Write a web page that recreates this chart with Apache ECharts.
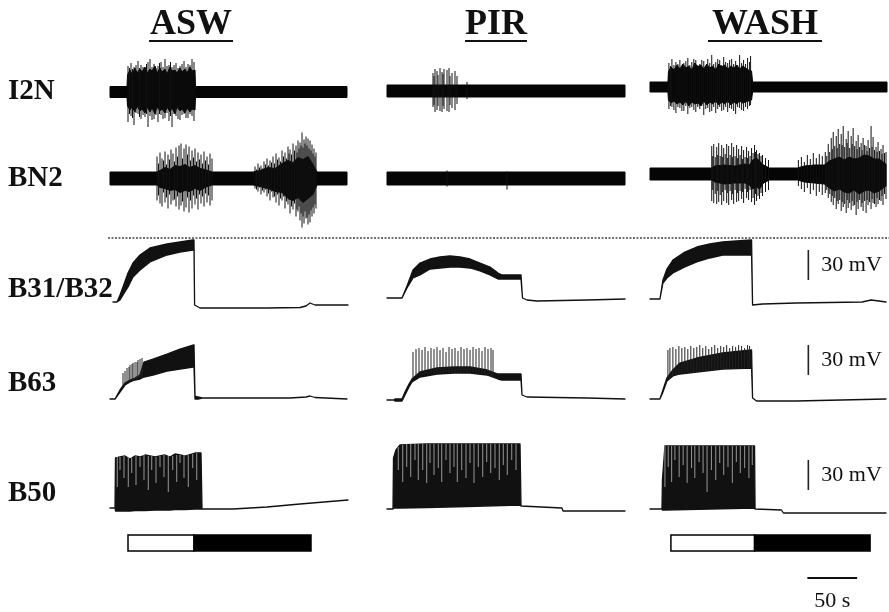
<!DOCTYPE html>
<html><head><meta charset="utf-8">
<script src="https://cdn.jsdelivr.net/npm/echarts@6/dist/echarts.min.js"></script>
<style>html,body{margin:0;padding:0;background:#fff}#main{width:889px;height:612px}</style>
</head><body><div id="main"></div>
<script>
// ---------- labels ----------
const conditions = ['ASW', 'PIR', 'WASH'];
const rowNames = ['I2N', 'BN2', 'B31/B32', 'B63', 'B50'];
const voltBarText = '30 mV';
const timeBarText = '50 s';

// ---------- extracellular nerve recordings: [t (s), upper, lower] (relative units) ----------
const I2N_ASW = [[0,5.5,-5.5],[17,5.5,-5.5],[17.5,17,-14],[20,22,-18],[22,18,-15],[25,24,-20],[27,19,-14],[30,23,-19],[32,20,-17],[35,25,-21],[37,19,-15],[40,23,-20],[42,21,-16],[45,26,-22],[47,19,-15],[50,24,-19],[52,20,-17],[55,23,-21],[57,18,-15],[60,25,-20],[62,21,-16],[65,22,-22],[67,19,-15],[70,24,-19],[72,20,-17],[75,23,-21],[77,19,-16],[80,25,-20],[82,21,-17],[85,22,-18],[85.5,5.5,-5.5],[237,5.5,-5.5]];
const I2N_ASW_spikes = [[18,26,-30],[19.5,24,-22],[21,29,-24],[22.5,23,-26],[24,25,-33],[26,27,-21],[28,31,-22],[29.5,24,-25],[31,27,-27],[33,25,-23],[35,24,-25],[36.5,28,-22],[38,30,-35],[40,33,-24],[42,25,-28],[44,28,-27],[46,24,-23],[48,26,-30],[49.5,29,-22],[51,30,-23],[53,25,-27],[55,33,-26],[57,26,-21],[59,27,-29],[60.5,30,-24],[62,25,-35],[64,27,-22],[66,29,-24],[68,24,-27],[70,26,-28],[72,28,-23],[74,31,-22],[76,25,-26],[78,28,-26],[80,27,-22],[82,33,-24],[84,30,-29]];
const I2N_PIR = [[0,6,-6],[238,6,-6]];
const I2N_PIR_spikes = [[46,18,-16],[47,15,-14],[48,22,-21],[50,20,-19],[51,16,-15],[53,23,-20],[55,19,-21],[56,17,-15],[57,22,-18],[60,21,-20],[62,23,-21],[63,15,-14],[65,18,-17],[68,20,-19],[70,15,-13],[80,9,-8]];
const I2N_WASH = [[0,5,-5],[18,5,-5],[18.5,15,-13],[21,20,-16],[24,17,-14],[27,22,-17],[30,18,-15],[33,23,-18],[36,19,-14],[39,21,-19],[42,17,-15],[45,24,-17],[48,20,-16],[51,22,-19],[54,18,-14],[57,23,-18],[60,19,-15],[63,21,-17],[66,17,-14],[69,23,-18],[72,20,-15],[75,22,-17],[78,18,-14],[81,21,-18],[84,19,-15],[87,22,-17],[90,18,-14],[93,21,-16],[96,19,-15],[99,17,-14],[102,16,-13],[103,5,-5],[238,5,-5]];
const I2N_WASH_spikes = [[19,24,-22],[20.5,21,-19],[22,28,-20],[24,22,-23],[26,25,-26],[28,23,-20],[30,27,-21],[32,21,-24],[34,24,-24],[36,26,-19],[38,29,-27],[40,22,-21],[42,25,-20],[44,28,-23],[46,27,-25],[48,22,-20],[50,23,-22],[52,27,-19],[54,26,-28],[56,21,-22],[58,28,-21],[60,24,-25],[62,32,-24],[64,23,-20],[66,25,-26],[68,28,-22],[70,27,-20],[72,22,-24],[74,30,-23],[76,25,-20],[78,24,-25],[80,27,-21],[82,28,-22],[84,23,-24],[86,26,-27],[88,22,-20],[90,32,-21],[92,24,-23],[94,27,-24],[96,23,-20],[98,29,-22],[100,25,-19],[101,31,-18]];

const BN2_ASW = [[0,6.5,-6.5],[47,6.5,-6.5],[50,8,-9],[55,11,-10],[60,9,-12],[65,13,-11],[70,12,-14],[75,14,-12],[80,11,-13],[85,13,-10],[90,10,-12],[95,9,-9],[102,6.5,-6.5],[143,6.5,-6.5],[150,8,-8],[158,11,-10],[165,10,-13],[172,15,-14],[178,18,-20],[183,16,-22],[188,21,-19],[193,19,-24],[198,22,-20],[203,14,-16],[207,6.5,-6.5],[237,6.5,-6.5]];
const BN2_ASW_spikes = [[47,22,-22],[48.5,15,-17],[50,26,-25],[52,20,-28],[53.5,18,-14],[55,27,-24],[56.5,14,-19],[58,24,-30],[59.5,19,-16],[61,29,-26],[63,25,-22],[64.5,17,-21],[66,31,-28],[67.5,22,-18],[69,33,-31],[71,35,-27],[72.5,20,-23],[74,30,-33],[76,34,-29],[77.5,24,-19],[79,32,-34],[80.5,18,-22],[82,28,-30],[83.5,21,-17],[85,30,-26],[86.5,17,-20],[88,26,-31],[89.5,19,-16],[91,24,-25],[92.5,15,-18],[94,27,-28],[95.5,18,-15],[97,22,-24],[98.5,14,-17],[100,25,-27],[102,20,-22],
  [145,12,-10],[146.5,9,-11],[148,15,-13],[149.5,11,-9],[151,13,-16],[152.5,10,-12],[154,17,-14],[155.5,14,-11],[157,20,-18],[158.5,13,-15],[160,18,-22],[161.5,16,-13],[163,22,-19],[164.5,15,-18],[166,25,-24],[167.5,19,-16],[169,21,-27],[170.5,17,-20],[172,28,-22],[173.5,22,-18],[175,26,-30],[176.5,20,-23],[178,32,-26],[179,25,-21],[180,29,-35],[181.5,24,-28],[183,35,-31],[184.5,28,-25],[186,33,-38],[187,26,-31],[188,38,-33],[189,30,-28],[190,36,-42],[191,33,-35],[192,46,-49],[193,31,-38],[194,39,-45],[195,35,-33],[196,42,-40],[197,33,-39],[198,40,-46],[199,30,-36],[200,38,-44],[201,28,-32],[202,34,-38],[203,25,-29],[204,30,-35],[205,22,-26],[206,26,-30]];
const BN2_PIR = [[0,6.5,-6.5],[238,6.5,-6.5]];
const BN2_PIR_spikes = [[60,8,-8],[120,7,-11]];
const BN2_WASH = [[0,6,-6],[62,6,-6],[65,8,-8],[75,9,-10],[85,8,-9],[95,10,-9],[100,9,-11],[103,14,-15],[107,16,-13],[110,13,-15],[114,9,-9],[120,6,-6],[148,6,-6],[155,8,-8],[165,9,-9],[175,9,-10],[180,13,-14],[185,15,-17],[190,17,-15],[195,14,-18],[200,17,-19],[205,15,-16],[210,16,-20],[215,19,-17],[220,18,-16],[225,15,-19],[230,15,-17],[237,10,-12]];
const BN2_WASH_spikes = [[62,28,-27],[63,18,-16],[64,30,-29],[65.5,17,-20],[67,27,-30],[68,19,-17],[69,31,-28],[70.5,18,-21],[72,29,-31],[73,17,-18],[74,26,-27],[75.5,20,-16],[77,30,-29],[78,16,-19],[79,28,-31],[80.5,19,-17],[82,31,-26],[83,17,-20],[84,27,-30],[85.5,18,-16],[87,29,-28],[88,16,-19],[89,25,-27],[90.5,19,-17],[92,28,-25],[93,15,-18],[94,24,-29],[95.5,17,-15],[97,27,-24],[98,16,-18],[99,23,-26],[100.5,18,-16],[102,26,-28],[103.5,21,-24],[105,29,-31],[106,22,-20],[107,24,-27],[108.5,20,-22],[110,21,-25],[111.5,18,-19],[113,19,-22],[116,16,-18],[119,14,-16],
  [149,14,-12],[152,17,-15],[155,12,-18],[158,19,-14],[161,15,-20],[164,21,-16],[167,16,-22],[170,20,-18],[173,18,-21],[176,22,-19],[177.5,18,-16],[179,30,-24],[180.5,22,-20],[182,36,-28],[183,25,-22],[184,42,-31],[185.5,28,-24],[187,38,-35],[188,26,-27],[189,45,-30],[190.5,30,-26],[192,40,-37],[193,29,-28],[194,48,-33],[195.5,27,-30],[197,35,-39],[198,31,-26],[199,43,-34],[200.5,26,-29],[202,38,-36],[203,30,-27],[204,46,-32],[205.5,28,-31],[207,33,-41],[208,25,-28],[209,39,-35],[210.5,27,-26],[212,31,-33],[213,24,-29],[214,36,-37],[215.5,29,-27],[217,28,-39],[218,23,-26],[219,34,-31],[220.5,26,-28],[222,48,-35],[223,27,-25],[224,37,-29],[225.5,24,-30],[227,27,-33],[228,22,-24],[229,32,-30],[230.5,23,-26],[232,25,-27],[233,20,-22],[234,29,-31],[235.5,21,-20],[237,22,-25]];

// ---------- intracellular recordings: [t (s), upper mV, lower mV] ----------
const B31_ASW = [[3,-64,-64],[7,-64,-64],[10,-57,-62],[13,-49,-57],[18,-35,-49],[23,-25,-39],[30,-17,-32],[40,-10,-24],[57,-6,-17],[70,-4,-14],[83,-2,-12],[84,-2,-12],[84.6,-67,-67],[90,-70,-70],[157,-70,-70],[190,-69.5,-69.5],[196,-68,-68],[200,-65,-65],[205,-67,-67],[238,-67,-67]];
const B31_PIR = [[0,-60,-60],[15,-60,-60],[20,-48,-50],[26,-32,-40],[33,-25,-37],[43,-21,-31],[53,-19,-30],[63,-18,-29],[73,-19,-29],[83,-21,-30],[93,-25,-33],[103,-29,-37],[111,-35,-41],[115,-37,-41],[134,-37,-41],[135.5,-60,-60],[140,-62,-62],[150,-63,-63],[200,-62,-62],[238,-61,-61]];
const B31_WASH = [[0,-61,-61],[10,-61,-61],[13,-42,-45],[17,-31,-40],[23,-22,-35],[35,-14,-29],[47,-9,-24],[60,-6,-20],[73,-4,-17],[87,-3,-17],[102,-2,-17],[103,-67,-67],[113,-66,-66],[147,-65,-65],[213,-64,-64],[222,-62,-62],[226,-62.5,-62.5],[237,-64,-64]];

const B63_ASW = [[0,-59,-59],[5,-59,-59],[10,-50,-52],[15,-43,-45],[20,-40,-42],[25,-38,-40],[30,-35,-39],[34,-22,-37],[43,-19,-35],[57,-14,-31],[70,-9,-29],[83,-5,-27],[84,-5,-27],[85,-56,-59],[88,-57,-59],[92,-58,-58],[180,-58,-58],[196,-57,-57],[200,-56,-56],[205,-57.5,-57.5],[237,-59,-59]];
const B63_ASW_spikes = [[13,-33,-46],[15,-31,-44],[17,-28,-42],[19,-27,-41],[20,-25,-41],[22,-24,-40],[23,-23,-40],[25,-22,-39],[27,-22,-39],[28,-20,-38],[30,-19,-38],[32,-18,-37]];
const B63_PIR = [[0,-60,-60],[7,-60,-60],[8,-59,-61],[15,-59,-61],[18,-52,-55],[22,-44,-47],[25,-39,-42],[33,-32,-37],[50,-28,-34],[67,-27,-33],[83,-27,-33],[100,-30,-35],[111,-34,-39],[115,-34,-40],[134,-34,-40],[135,-55,-55],[140,-57,-57],[200,-58,-58],[238,-59,-59]];
const B63_PIR_spikes = [[26,-12,-38],[29,-9,-36],[32,-8,-35],[35,-10,-35],[38,-7,-34],[41,-11,-34],[44,-8,-34],[47,-9,-34],[50,-7,-33],[53,-10,-33],[56,-8,-33],[59,-12,-33],[62,-7,-33],[65,-9,-33],[68,-8,-33],[71,-11,-33],[74,-7,-33],[77,-9,-33],[80,-8,-33],[83,-10,-33],[86,-7,-34],[89,-9,-34],[92,-8,-34],[95,-11,-35],[98,-7,-35],[101,-9,-36],[104,-8,-36],[106,-10,-37]];
const B63_WASH = [[0,-59,-59],[10,-59,-59],[13,-50,-52],[17,-38,-41],[23,-30,-36],[30,-23,-34],[47,-18,-32],[73,-13,-29],[102,-10,-28],[103,-58,-58],[107,-61,-61],[147,-61,-61],[237,-59,-59]];
const B63_WASH_spikes = [[18,-10,-39],[20,-8,-38],[23,-7,-36],[26,-9,-35],[29,-6,-35],[32,-8,-34],[35,-7,-34],[38,-9,-33],[41,-6,-33],[44,-8,-33],[47,-7,-32],[50,-5,-32],[53,-8,-32],[56,-6,-31],[59,-9,-31],[62,-7,-31],[65,-5,-30],[68,-8,-30],[71,-6,-30],[74,-7,-29],[77,-5,-29],[80,-8,-29],[83,-6,-29],[86,-7,-29],[89,-5,-28],[92,-6,-28],[95,-8,-28],[98,-5,-28],[100,-6,-28]];

const B50_ASW = [[0,-58,-58],[5,-58,-58],[5.5,-8,-61],[10,-7,-61],[15,-6,-61],[20,-9,-61],[25,-6,-60.5],[30,-7,-60.5],[35,-5,-60.5],[45,-7,-60],[55,-5,-60],[60,-7,-60],[65,-4,-59.5],[75,-6,-59.5],[85,-3,-59],[91,-3,-59],[92,-59,-59],[123,-59,-59],[157,-57,-57],[190,-54,-54],[238,-50,-50]];
const B50_ASW_gaps = [[7.3,-7,-37],[10,-7,-20],[14,-6,-28],[18.3,-7,-37],[21.7,-8,-23],[26,-6,-35],[30,-7,-17],[34,-5,-30],[38.3,-6,-40],[41.7,-6,-20],[46,-7,-33],[50,-6,-17],[54,-5,-27],[58.3,-6,-42],[62.7,-6,-20],[66.7,-5,-32],[70,-5,-13],[74,-5,-28],[78.3,-5,-37],[82.7,-4,-18],[86.7,-3,-30]];
const B50_PIR = [[0,-59,-59],[6,-59,-59],[6.5,-8,-58],[9,0,-58],[13,5,-58],[40,6,-57.5],[80,6,-56.5],[133,6,-55],[134,-56,-56],[175,-58,-58],[176,-61,-61],[238,-61,-61]];
const B50_PIR_gaps = [[11.3,3,-20],[15.7,5,-32],[19.7,6,-17],[23.7,6,-27],[28,6,-10],[31.3,6,-30],[35.7,6,-20],[39.7,6,-33],[43,6,-13],[47,6,-25],[51.3,6,-18],[54.7,6,-32],[59,6,-10],[63,6,-23],[67,6,-17],[70.3,6,-32],[74.7,6,-20],[79,6,-28],[83,6,-13],[87,6,-33],[91.3,6,-17],[95.7,6,-27],[99.7,6,-12],[103.7,6,-23],[108,6,-18],[112.3,6,-30],[116.3,6,-15],[120.3,6,-25],[124.7,6,-10],[129,6,-20]];
const B50_WASH = [[0,-59,-59],[12,-59,-59],[12.5,-30,-60],[15,4,-60],[105,4,-58],[105.5,-59,-59],[132,-60,-60],[134,-63,-63],[237,-63,-63]];
const B50_WASH_gaps = [[15,4,-37],[18.3,4,-17],[21.7,4,-32],[25,4,-10],[29.3,4,-27],[33.3,4,-15],[37.3,4,-33],[41.7,4,-18],[45,4,-28],[49.3,4,-12],[53.3,4,-23],[57.3,4,-42],[61.7,4,-20],[66,4,-30],[70,4,-13],[74,4,-25],[78.3,4,-17],[82.7,4,-33],[86.7,4,-12],[90.7,4,-23],[95,4,-18],[99.3,4,-28],[102.7,4,-15]];

// ---------- reference / calibration / stimulus ----------
const zeroLevelMV = 0;
const voltBars = { B31: [159, -42, -12], B63: [159, -35, -5], B50: [159, -40, -10] }; // [t, from mV, to mV] (WASH column)
const timeBar = [158, 208];            // s (WASH column)
const stimASW = [18, 84, 201];         // s: open phase start, filled phase start, end
const stimWASH = [21, 105, 221];

// ---------- layout ----------
const colLeft = [110, 387, 650];
const colWidth = 240, tRange = [0, 240];
const extraGeom = { I2N: { centers: [92, 91, 87], half: 50 }, BN2: { centers: [178.5, 178.5, 174], half: 55 } };
const intraGeom = { B31: { top: 230, min: -82, max: 8 }, B63: { top: 330, min: -70, max: 10 }, B50: { top: 440, min: -70, max: 10 } };
const SERIF = '"Liberation Serif", "DejaVu Serif", serif';

const grids = [], xAxes = [], yAxes = [], series = [];
function addGrid(left, top, width, height, xr, yr) {
  const i = grids.length;
  grids.push({ left, top, width, height });
  xAxes.push({ type: 'value', gridIndex: i, min: xr[0], max: xr[1], show: false });
  yAxes.push({ type: 'value', gridIndex: i, min: yr[0], max: yr[1], show: false });
  return i;
}
// one filled envelope polygon per trace (upper edge forward, lower edge back), through the grid's axes
function bandSeries(gi, pts, color, lw, z) {
  series.push({
    type: 'custom', xAxisIndex: gi, yAxisIndex: gi, data: pts, silent: true, animation: false, z: z,
    encode: { x: 0, y: [1, 2] },
    renderItem(params, api) {
      if (params.dataIndexInside !== 0) return null;
      const n = params.dataInsideLength, up = [], lo = [];
      for (let i = 0; i < n; i++) {
        up.push(api.coord([api.value(0, i), api.value(1, i)]));
        lo.push(api.coord([api.value(0, i), api.value(2, i)]));
      }
      return { type: 'polygon', shape: { points: up.concat(lo.reverse()) },
        style: { fill: color, stroke: color, lineWidth: lw, lineJoin: 'round' } };
    }
  });
}
function spikeSeries(gi, pts, color, lw, z) {
  series.push({
    type: 'custom', xAxisIndex: gi, yAxisIndex: gi, data: pts, silent: true, animation: false, z: z,
    encode: { x: 0, y: [1, 2] },
    renderItem(params, api) {
      const a = api.coord([api.value(0), api.value(1)]), b = api.coord([api.value(0), api.value(2)]);
      return { type: 'line', shape: { x1: a[0], y1: a[1], x2: b[0], y2: b[1] }, style: { stroke: color, lineWidth: lw } };
    }
  });
}

const extraData = {
  I2N: [[I2N_ASW, I2N_ASW_spikes], [I2N_PIR, I2N_PIR_spikes], [I2N_WASH, I2N_WASH_spikes]],
  BN2: [[BN2_ASW, BN2_ASW_spikes], [BN2_PIR, BN2_PIR_spikes], [BN2_WASH, BN2_WASH_spikes]]
};
const intraData = {
  B31: [[B31_ASW, null], [B31_PIR, null], [B31_WASH, null]],
  B63: [[B63_ASW, B63_ASW_spikes], [B63_PIR, B63_PIR_spikes], [B63_WASH, B63_WASH_spikes]],
  B50: [[B50_ASW, B50_ASW_gaps], [B50_PIR, B50_PIR_gaps], [B50_WASH, B50_WASH_gaps]]
};
const washGrid = {};

for (let c = 0; c < 3; c++) {
  for (const r of ['I2N', 'BN2']) {
    const g = extraGeom[r];
    const gi = addGrid(colLeft[c], g.centers[c] - g.half, colWidth, 2 * g.half, tRange, [-g.half, g.half]);
    bandSeries(gi, extraData[r][c][0], '#050505', 1, 3);
    spikeSeries(gi, extraData[r][c][1], '#111', 1, 4);
  }
  for (const r of ['B31', 'B63', 'B50']) {
    const g = intraGeom[r];
    const gi = addGrid(colLeft[c], g.top, colWidth, g.max - g.min, tRange, [g.min, g.max]);
    if (c === 2) washGrid[r] = gi;
    bandSeries(gi, intraData[r][c][0], '#111', 1.3, 3);
    const extra = intraData[r][c][1];
    if (extra) {
      if (r === 'B50') spikeSeries(gi, extra, '#8c8c8c', 1.1, 5);
      else spikeSeries(gi, extra, '#222', 1, 4);
    }
  }
}

// dotted 0 mV reference line across the intracellular B31/B32 row
{
  const g = intraGeom.B31;
  const gi = addGrid(108, g.top, 781, g.max - g.min, [0, 1], [g.min, g.max]);
  series.push({ type: 'line', xAxisIndex: gi, yAxisIndex: gi, data: [[0, zeroLevelMV], [1, zeroLevelMV]], symbol: 'none',
    silent: true, animation: false, lineStyle: { color: '#444', width: 1.6, type: [2, 1.5] } });
}

// 30 mV calibration bars (WASH column)
for (const r of ['B31', 'B63', 'B50']) {
  const gi = washGrid[r];
  series.push({
    type: 'custom', xAxisIndex: gi, yAxisIndex: gi, data: [voltBars[r]], silent: true, animation: false, z: 6,
    encode: { x: 0, y: [1, 2] },
    renderItem(params, api) {
      const a = api.coord([api.value(0), api.value(1)]), b = api.coord([api.value(0), api.value(2)]);
      return { type: 'group', children: [
        { type: 'line', shape: { x1: a[0], y1: a[1], x2: b[0], y2: b[1] }, style: { stroke: '#222', lineWidth: 1.6 } },
        { type: 'text', x: a[0] + 13, y: (a[1] + b[1]) / 2, style: { text: voltBarText, font: '22px ' + SERIF, fill: '#111', textAlign: 'left', textVerticalAlign: 'middle', align: 'left', verticalAlign: 'middle' } }
      ] };
    }
  });
}

// stimulus bars (ASW and WASH)
[[0, stimASW], [2, stimWASH]].forEach(([c, b]) => {
  const gi = addGrid(colLeft[c], 535, colWidth, 16, tRange, [0, 1]);
  series.push({
    type: 'custom', xAxisIndex: gi, yAxisIndex: gi, data: [[b[0], b[1], 0], [b[1], b[2], 1]], silent: true, animation: false, z: 6,
    encode: { x: [0, 1] },
    renderItem(params, api) {
      const p0 = api.coord([api.value(0), 1]), p1 = api.coord([api.value(1), 0]);
      return { type: 'rect', shape: { x: p0[0], y: p0[1], width: p1[0] - p0[0], height: p1[1] - p0[1] },
        style: { fill: api.value(2) ? '#000' : '#fff', stroke: '#000', lineWidth: 1.5 } };
    }
  });
});

// 50 s time bar (WASH column)
{
  const gi = addGrid(colLeft[2], 570, colWidth, 16, tRange, [0, 1]);
  series.push({
    type: 'custom', xAxisIndex: gi, yAxisIndex: gi, data: [[timeBar[0], timeBar[1]]], silent: true, animation: false, z: 6,
    encode: { x: [0, 1] },
    renderItem(params, api) {
      const a = api.coord([api.value(0), 0.5]), b = api.coord([api.value(1), 0.5]);
      return { type: 'group', children: [
        { type: 'line', shape: { x1: a[0], y1: a[1], x2: b[0], y2: b[1] }, style: { stroke: '#111', lineWidth: 2 } },
        { type: 'text', x: (a[0] + b[0]) / 2, y: a[1] + 23, style: { text: timeBarText, font: '22px ' + SERIF, fill: '#111', textAlign: 'center', textVerticalAlign: 'middle', align: 'center', verticalAlign: 'middle' } }
      ] };
    }
  });
}

// ---------- text: condition titles (underlined) and row labels ----------
const titleCenters = [191, 496, 765], titleWidths = [84, 62, 114];
const graphics = [];
conditions.forEach((t, i) => {
  graphics.push({ type: 'text', x: titleCenters[i], y: 25, style: { text: t, font: 'bold 36px ' + SERIF, fill: '#111', textAlign: 'center', textVerticalAlign: 'middle', align: 'center', verticalAlign: 'middle' } });
  graphics.push({ type: 'rect', shape: { x: titleCenters[i] - titleWidths[i] / 2, y: 40, width: titleWidths[i], height: 2 }, style: { fill: '#111' } });
});
const rowLabelY = [92, 179, 290, 384, 494];
rowNames.forEach((t, i) => {
  graphics.push({ type: 'text', x: 8, y: rowLabelY[i], style: { text: t, font: 'bold 29px ' + SERIF, fill: '#111', textAlign: 'left', textVerticalAlign: 'middle', align: 'left', verticalAlign: 'middle' } });
});

const chart = echarts.init(document.getElementById('main'), null, { renderer: 'canvas' });
chart.setOption({
  backgroundColor: '#fff',
  animation: false,
  grid: grids, xAxis: xAxes, yAxis: yAxes, series: series,
  graphic: graphics
});
</script></body></html>
